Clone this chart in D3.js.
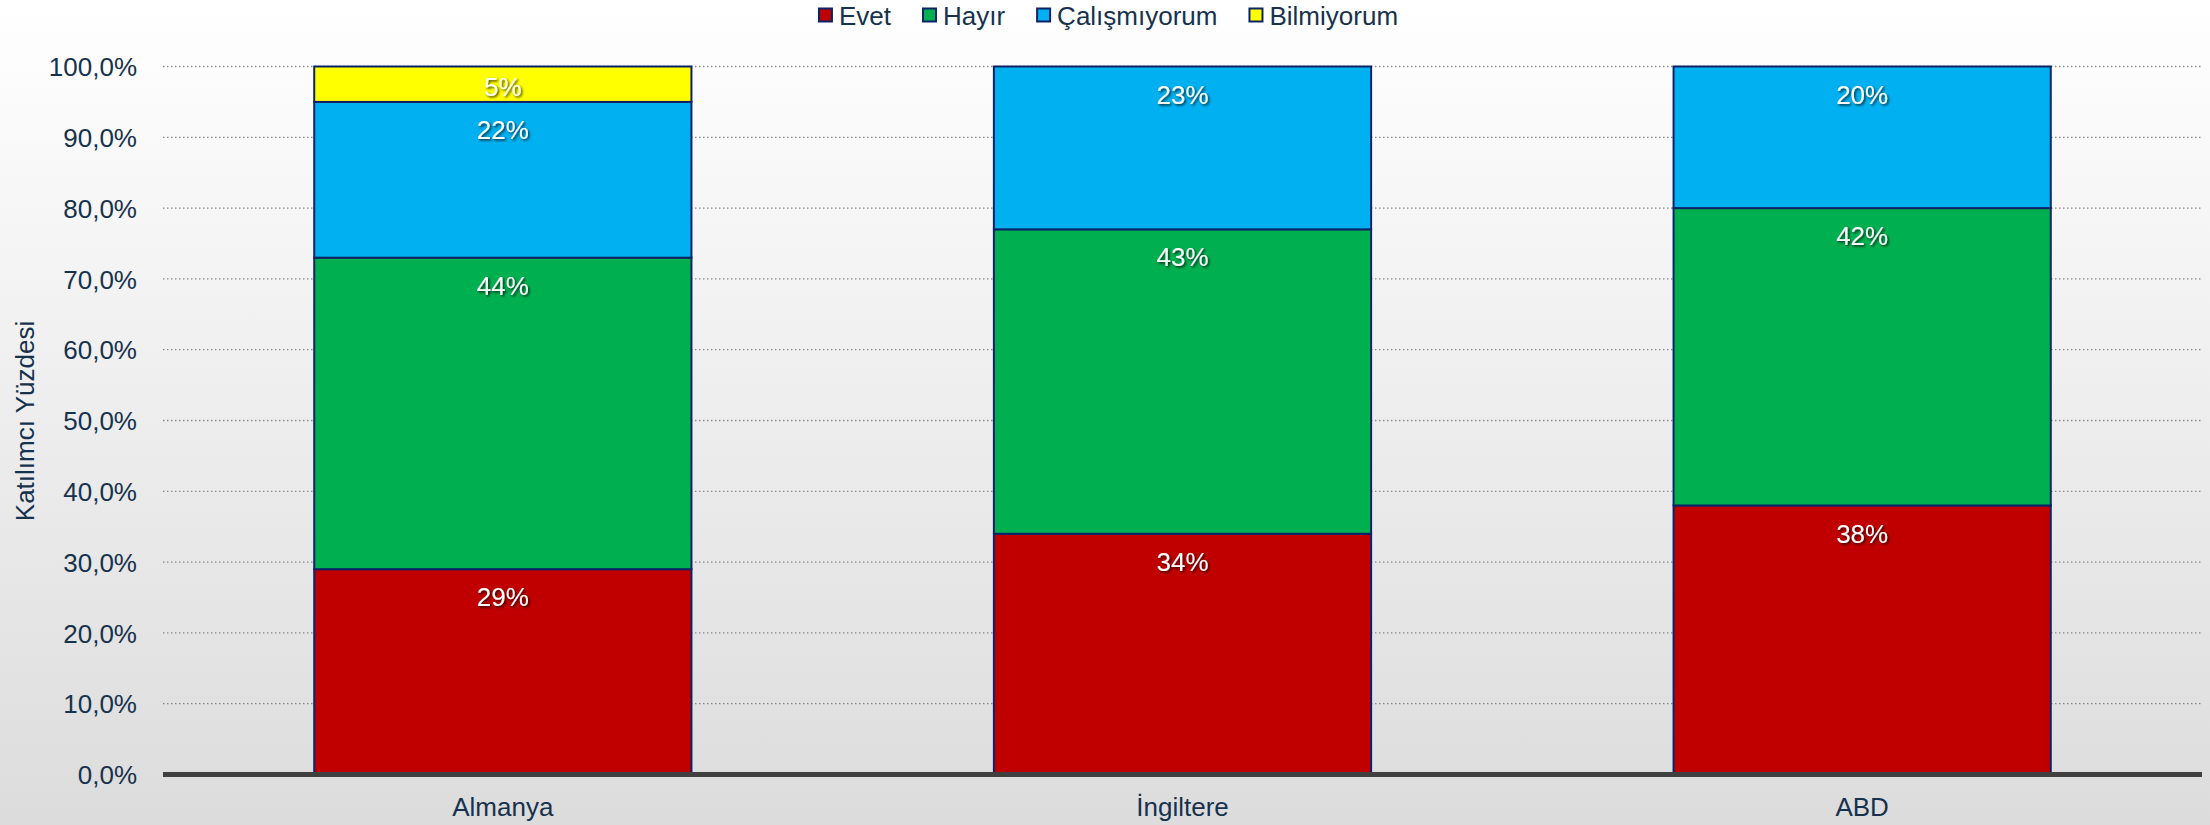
<!DOCTYPE html>
<html><head><meta charset="utf-8">
<script src="https://cdn.jsdelivr.net/npm/d3@7"></script>
<style>html,body{margin:0;padding:0;background:#fff;}svg{display:block;}</style>
</head><body>
<script>
const categories = ["Almanya", "İngiltere", "ABD"];
const seriesNames = ["Evet", "Hayır", "Çalışmıyorum", "Bilmiyorum"];
const evet = [29, 34, 38];
const hayir = [44, 43, 42];
const calismiyorum = [22, 23, 20];
const bilmiyorum = [5, 0, 0];
const yTicks = [0, 10, 20, 30, 40, 50, 60, 70, 80, 90, 100];
const yTitle = "Katılımcı Yüzdesi";
const colors = ["#C00000", "#00B050", "#00B0F0", "#FFFF00"];

const W = 2210, H = 825;
const font = "'Liberation Sans', Arial, sans-serif";
const textColor = "#17324d";
const svg = d3.select("body").append("svg").attr("width", W).attr("height", H);

const defs = svg.append("defs");
const grad = defs.append("linearGradient").attr("id", "bg").attr("x1", 0).attr("y1", 0).attr("x2", 0).attr("y2", 1);
grad.append("stop").attr("offset", "0%").attr("stop-color", "#ffffff");
grad.append("stop").attr("offset", "100%").attr("stop-color", "#dcdcdc");
const f = defs.append("filter").attr("id", "sh").attr("x", "-20%").attr("y", "-20%").attr("width", "140%").attr("height", "140%");
f.append("feDropShadow").attr("dx", 1.5).attr("dy", 1.5).attr("stdDeviation", 0.8).attr("flood-color", "#000").attr("flood-opacity", 0.75);

svg.append("rect").attr("width", W).attr("height", H).attr("fill", "url(#bg)");

const x0 = 163, x1 = 2202, yBottom = 774.5, yTop = 66.5;
const x = d3.scaleBand().domain(categories).range([x0, x1]).paddingInner(0.445).paddingOuter(0.2225);
const y = d3.scaleLinear().domain([0, 100]).range([yBottom, yTop]);

// gridlines
svg.append("g").selectAll("line").data(yTicks.filter(d => d > 0)).join("line")
  .attr("x1", x0).attr("x2", x1).attr("y1", d => y(d)).attr("y2", d => y(d))
  .attr("stroke", "#8a8a8a").attr("stroke-width", 1.3).attr("stroke-dasharray", "1.5,2.5");

// y axis
const yAxis = d3.axisLeft(y).tickValues(yTicks).tickSize(0).tickPadding(0)
  .tickFormat(d => d3.format(".1f")(d).replace(".", ",") + "%");
const ya = svg.append("g").attr("transform", `translate(137,0)`).call(yAxis);
ya.select(".domain").remove();
ya.selectAll("text").attr("font-family", font).attr("font-size", 26).attr("fill", textColor).attr("dy", "0.35em");

// stack
const table = categories.map((c, i) => ({cat: c, Evet: evet[i], "Hayır": hayir[i], "Çalışmıyorum": calismiyorum[i], Bilmiyorum: bilmiyorum[i]}));
const stacked = d3.stack().keys(seriesNames)(table);

const gBars = svg.append("g");
stacked.forEach((s, si) => {
  s.forEach((d, i) => {
    const v = d[1] - d[0];
    if (v <= 0) return;
    const top = y(d[1]), bot = y(d[0]);
    gBars.append("rect").attr("x", x(d.data.cat)).attr("width", x.bandwidth())
      .attr("y", top).attr("height", bot - top)
      .attr("fill", colors[si]).attr("stroke", "#0d2368").attr("stroke-width", 2);
  });
});
stacked.forEach((s, si) => {
  s.forEach((d) => {
    const v = d[1] - d[0];
    if (v <= 0) return;
    const top = y(d[1]), bot = y(d[0]);
    const cy = Math.min(top + 28, (top + bot) / 2 + 3);
    gBars.append("text").attr("x", x(d.data.cat) + x.bandwidth() / 2).attr("y", cy)
      .attr("dy", "0.35em").attr("text-anchor", "middle")
      .attr("font-family", font).attr("font-size", 26).attr("fill", "#fff")
      .attr("filter", "url(#sh)").text(v + "%");
  });
});

// x axis line
svg.append("line").attr("x1", x0).attr("x2", x1).attr("y1", yBottom).attr("y2", yBottom)
  .attr("stroke", "#404040").attr("stroke-width", 5);
const xAxis = d3.axisBottom(x).tickSize(0).tickPadding(0);
const xa = svg.append("g").attr("transform", `translate(0,${yBottom})`).call(xAxis);
xa.select(".domain").remove();
xa.selectAll("text").attr("font-family", font).attr("font-size", 26).attr("fill", textColor).attr("dy", "0").attr("y", 41);

// y title
svg.append("text").attr("transform", `translate(34,421) rotate(-90)`).attr("text-anchor", "middle")
  .attr("font-family", font).attr("font-size", 26).attr("fill", textColor).text(yTitle);

// legend
const lg = svg.append("g");
const items = [];
let cx = 0;
seriesNames.forEach((n, i) => {
  const g = lg.append("g");
  g.append("rect").attr("x", cx).attr("y", -7).attr("width", 13).attr("height", 13)
    .attr("fill", colors[i]).attr("stroke", "#0d2368").attr("stroke-width", 2);
  const t = g.append("text").attr("x", cx + 20).attr("y", 0).attr("dy", "0.35em")
    .attr("font-family", font).attr("font-size", 26).attr("fill", textColor).text(n);
  const w = t.node().getComputedTextLength();
  cx += 20 + w + 32;
});
const total = cx - 32;
lg.attr("transform", `translate(${1108.5 - total / 2},15.5)`);
</script>
</body></html>
